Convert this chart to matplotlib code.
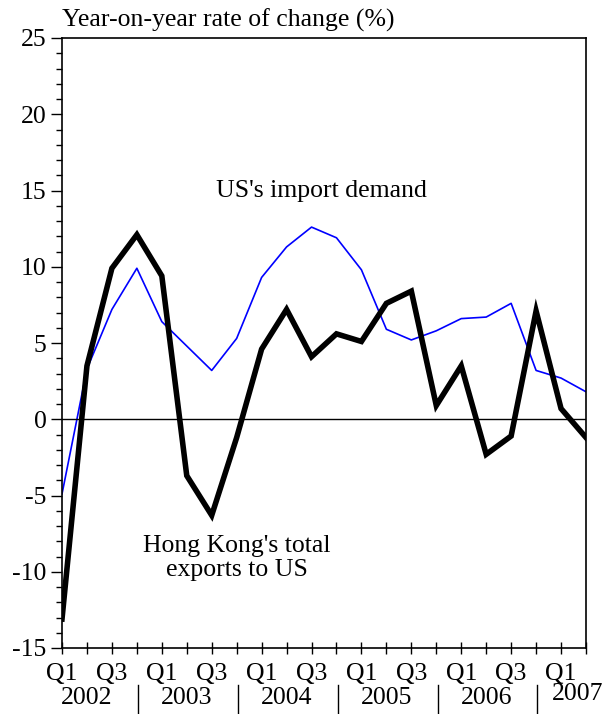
import matplotlib.pyplot as plt
import numpy as np

plt.rcParams["font.family"] = ["Liberation Serif", "DejaVu Serif"]

# quarterly data, Q1 2002 .. Q2 2007
hk_exports = [-13.1, 3.5, 9.9, 12.1, 9.4, -3.7, -6.3, -1.2, 4.6, 7.2, 4.1, 5.6,
              5.1, 7.6, 8.4, 0.9, 3.5, -2.3, -1.1, 7.1, 0.7, -1.2]
us_imports = [-4.9, 3.3, 7.2, 9.9, 6.4, 4.8, 3.2, 5.3, 9.3, 11.3, 12.6, 11.9,
              9.8, 5.9, 5.2, 5.8, 6.6, 6.7, 7.6, 3.2, 2.7, 1.8]
quarter_labels = ["Q1", "", "Q3", ""] * 5 + ["Q1", ""]
years = ["2002", "2003", "2004", "2005", "2006", "2007"]

x = np.arange(len(hk_exports))
fs = 18.5

fig = plt.figure(figsize=(6.04, 7.14), dpi=100)
ax = fig.add_axes([62 / 604, 1 - 648 / 714, (586 - 62) / 604, (648 - 38) / 714])

ax.plot(x, us_imports, color="#0000ff", linewidth=1.2)
ax.plot(x, hk_exports, color="black", linewidth=4, solid_joinstyle="miter")
ax.axhline(0, color="black", linewidth=1)

ax.set_xlim(0, len(x) - 1)
ax.set_ylim(-15, 25)
ax.set_yticks(np.arange(-15, 26, 5))
ax.set_yticks(np.arange(-15, 26, 1), minor=True)
ax.set_yticklabels([str(v) for v in range(-15, 26, 5)])
ax.set_xticks(x)
ax.set_xticklabels(quarter_labels)

ax.tick_params(axis="y", which="major", direction="out", length=8, width=1,
               labelsize=fs, pad=3)
ax.tick_params(axis="y", which="minor", direction="out", length=4, width=1)
ax.tick_params(axis="x", direction="inout", length=9, width=1, labelsize=fs, pad=6)
for s in ax.spines.values():
    s.set_linewidth(1.2)

# year labels and separators below quarter labels
xt = ax.get_xaxis_transform()
for i, yr in enumerate(years[:-1]):
    ax.text(4 * i + 1, -0.082, yr, transform=xt, ha="center", va="center",
            fontsize=fs, clip_on=False)
fig.text(603 / 604, 1 - 694 / 714, years[-1], ha="right", va="center", fontsize=fs)
for i in range(5):
    sx = 4 * i + 3.05
    ax.plot([sx, sx], [-0.060, -0.108], transform=xt, color="black",
            linewidth=1, clip_on=False)

ax.text(10.4, 15, "US's import demand", ha="center", va="center", fontsize=fs)
ax.text(7, -9.1, "Hong Kong's total\nexports to US", ha="center", va="center",
        fontsize=fs, linespacing=1.1)

fig.text(62 / 604, 1 - 20 / 714, "Year-on-year rate of change (%)", ha="left",
         va="center", fontsize=fs)

fig.savefig("out.png", dpi=100)
